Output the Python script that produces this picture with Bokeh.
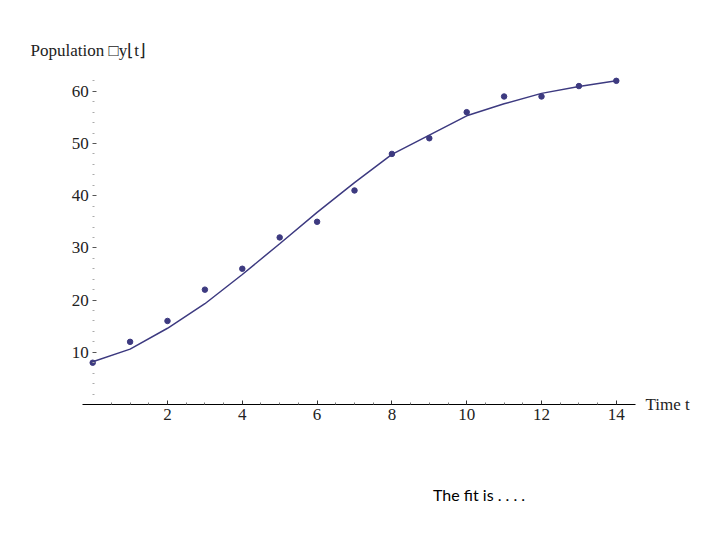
from bokeh.plotting import figure
from bokeh.models import Label, Range1d, FixedTicker
from bokeh.embed import file_html
from bokeh.resources import INLINE

# data
t = list(range(15))
population = [8, 12, 16, 22, 26, 32, 35, 41, 48, 51, 56, 59, 59, 61, 62]
fit = [8.2, 10.6, 14.6, 19.3, 24.9, 30.8, 36.8, 42.5, 47.9, 51.6, 55.3, 57.6, 59.6, 60.9, 62.0]
x_ticks = [2, 4, 6, 8, 10, 12, 14]
x_minor = [0.5, 1, 1.5, 2.5, 3, 3.5, 4.5, 5, 5.5, 6.5, 7, 7.5, 8.5, 9, 9.5,
           10.5, 11, 11.5, 12.5, 13, 13.5]
y_ticks = [10, 20, 30, 40, 50, 60]
y_minor = [2, 4, 6, 8, 12, 14, 16, 18, 22, 24, 26, 28, 32, 34, 36, 38,
           42, 44, 46, 48, 52, 54, 56, 58, 62]

col = "#3d3a80"
serif = "Liberation Serif"

p = figure(width=704, height=524, x_range=Range1d(-2.465, 16.358), y_range=Range1d(-22.99, 77.39),
           min_border=0, output_backend="svg", toolbar_location=None)
p.grid.visible = False
p.outline_line_color = None
p.background_fill_color = "white"
p.border_fill_color = "white"

p.line(t, fit, line_color=col, line_width=1.5)
p.scatter(t, population, size=5.5, fill_color=col, line_color=col)

xa = p.xaxis[0]
xa.fixed_location = 0
xa.bounds = (-0.28, 14.5)
xa.ticker = FixedTicker(ticks=x_ticks, minor_ticks=x_minor)
xa.axis_line_color = "black"
xa.axis_line_width = 1.2
xa.major_tick_in = 4
xa.major_tick_out = 0
xa.minor_tick_in = 2
xa.minor_tick_out = 0
xa.major_tick_line_color = "#333333"
xa.minor_tick_line_color = "#777777"
xa.major_label_text_font = serif
xa.major_label_text_font_size = "17px"
xa.major_label_text_color = "#222222"
xa.major_label_standoff = 5

ya = p.yaxis[0]
ya.fixed_location = 0
ya.bounds = (0, 63)
ya.ticker = FixedTicker(ticks=y_ticks, minor_ticks=y_minor)
ya.axis_line_color = None
ya.major_tick_in = 4
ya.major_tick_out = 0
ya.minor_tick_in = 2
ya.minor_tick_out = 0
ya.major_tick_line_color = "#555555"
ya.minor_tick_line_color = "#aaaaaa"
ya.major_label_text_font = serif
ya.major_label_text_font_size = "17px"
ya.major_label_text_color = "#222222"
ya.major_label_standoff = 4

p.add_layout(Label(x=-1.66, y=67.8, text="Population \u25a1y\u230at\u230b", text_font=serif,
                   text_font_size="17px", text_baseline="middle", text_color="#222222"))
p.add_layout(Label(x=14.78, y=0, text="Time t", text_font=serif,
                   text_font_size="17px", text_baseline="middle", text_color="#222222"))
p.add_layout(Label(x=9.1, y=-17.3, text="The fit is . . . .", text_font="Lato",
                   text_font_size="16px", text_baseline="middle", text_color="black"))

open("out.html", "w").write(file_html(p, INLINE))
